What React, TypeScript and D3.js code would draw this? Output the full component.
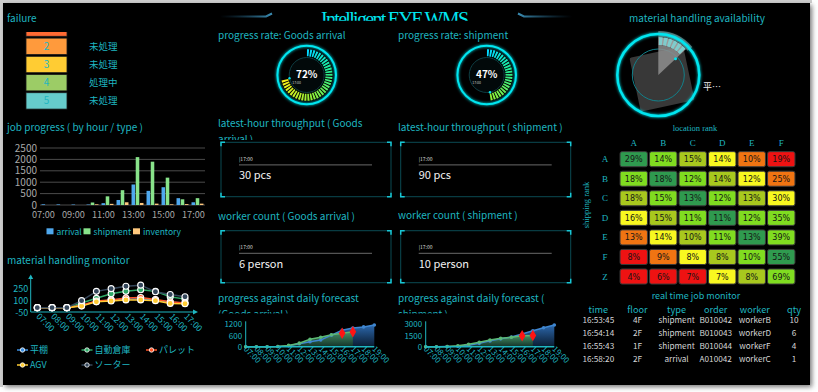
import * as d3 from "d3";
import React from "react";

const W = 818;
const H = 392;
const TEAL = "#1fb6c1";
const CYAN = "#00e6f0";
const FONT = "'Noto Sans CJK JP', 'Noto Sans', sans-serif";
const SERIF = "'Liberation Serif', 'DejaVu Serif', serif";

// failure list
const failureIds = ["1", "2", "3", "4", "5"];
const failureStatus = ["未処理", "未処理", "未処理", "処理中", "未処理"];
const failureColors = ["#ff6a33", "#ff9a3c", "#ffcc33", "#9ccc66", "#66cccc"];

// job progress (by hour / type)
const hours = ["07:00", "08:00", "09:00", "10:00", "11:00", "12:00", "13:00", "14:00", "15:00", "16:00", "17:00"];
const jobSeries = ["arrival", "shipment", "inventory"];
const jobArrival = [30, 25, 20, 20, 80, 220, 900, 620, 780, 300, 120];
const jobShipment = [0, 0, 0, 110, 380, 650, 2100, 1900, 1200, 250, 300];
const jobInventory = [0, 0, 0, 30, 50, 120, 90, 60, 30, 40, 60];
const jobColors = ["#4fa8ee", "#88e38a", "#ffc97e"];
const jobTicks = [0, 500, 1000, 1500, 2000, 2500];

// material handling monitor
const mhSeries = ["平棚", "自動倉庫", "パレット", "AGV", "ソーター"];
const mhShelf = [10, 10, 10, 40, 90, 110, 120, 120, 110, 80, 70];
const mhAuto = [10, 10, 10, 70, 130, 190, 220, 240, 220, 150, 120];
const mhPallet = [10, 10, 10, 40, 95, 110, 135, 140, 115, 85, 70];
const mhAgv = [10, 10, 10, 30, 85, 95, 110, 110, 100, 65, 60];
const mhSorter = [10, 10, 10, 100, 220, 255, 285, 300, 215, 180, 150];
const mhColors = ["#3d8fe0", "#2fa866", "#ff5528", "#ffcc33", "#34465a"];
const mhTicks = [-50, 100, 250];

// progress rate
const progressArrival = 72;
const progressShipment = 47;

// latest-hour throughput / worker count
const kpiTime = "17:00";
const throughputArrival = 30;
const throughputShipment = 90;
const workersArrival = 6;
const workersShipment = 10;

// progress against daily forecast
const fcHours = ["07:00", "08:00", "09:00", "10:00", "11:00", "12:00", "13:00", "14:00", "15:00", "16:00", "17:00", "18:00", "19:00"];
const forecastArrival = [0, 0, 0, 10, 50, 160, 270, 360, 620, 880, 1000, 1060, 1160];
const actualArrival = [0, 0, 0, 10, 70, 190, 400, 510, 640, 720, 800];
const forecastShipment = [0, 0, 20, 60, 200, 450, 780, 1050, 1300, 1700, 2140, 2540, 2900];
const actualShipment = [0, 0, 30, 120, 320, 590, 900, 1120, 1260, 1470, 1500];
const alertHours = ["16:00", "17:00"];

// material handling availability
const availabilityRate = 0.13;
const availabilityLabel = "平…";

// location rank
const rankCols = ["A", "B", "C", "D", "E", "F"];
const rankRows = ["A", "B", "C", "D", "E", "F", "Z"];
const rankValues = [
  [29, 14, 15, 14, 10, 19],
  [18, 18, 12, 14, 12, 25],
  [18, 15, 13, 12, 13, 30],
  [16, 15, 11, 11, 12, 35],
  [13, 14, 10, 11, 13, 39],
  [8, 9, 8, 8, 10, 55],
  [4, 6, 7, 7, 8, 69],
];
const rankLevels = [
  [0, 1, 2, 3, 4, 5],
  [1, 0, 1, 2, 3, 4],
  [2, 1, 0, 1, 2, 3],
  [3, 2, 1, 0, 1, 1],
  [4, 3, 2, 1, 0, 1],
  [5, 4, 3, 2, 1, 0],
  [5, 5, 5, 3, 2, 1],
];
const rankPalette = ["#2f9a4f", "#80dc20", "#a8c81e", "#f8f820", "#f07412", "#ee1212"];

// real time job monitor
const jobCols = ["time", "floor", "type", "order", "worker", "qty"];
const rtTime = ["16:53:45", "16:54:14", "16:55:43", "16:58:20"];
const rtFloor = ["4F", "2F", "1F", "2F"];
const rtType = ["shipment", "shipment", "shipment", "arrival"];
const rtOrder = ["B010042", "B010043", "B010044", "A010042"];
const rtWorker = ["workerB", "workerD", "workerF", "workerC"];
const rtQty = [10, 6, 4, 1];

const Heading = ({ x, y, children, anchor = "start", size = 10 }: any) => (
  <text x={x} y={y} fill={TEAL} fontSize={size} textAnchor={anchor}>
    {children}
  </text>
);

function Failure() {
  const y = d3.scaleBand().domain(failureIds).range([19, 110]).paddingInner(0.1).paddingOuter(0.05);
  return (
    <g>
      <g clipPath="url(#clipFailure)">
        {failureIds.map((id, i) => (
          <rect key={id} x={26} y={y(id)} width={41} height={y.bandwidth()} fill={failureColors[i]} stroke="#1a1a1a" strokeWidth={0.8} />
        ))}
      </g>
      <g clipPath="url(#clipFailureText)">
        {failureIds.map((id, i) => (
          <g key={id}>
            <text x={46.5} y={y(id)! + y.bandwidth() / 2 + 3.5} textAnchor="middle" fontSize={10} fill={TEAL}>
              {id}
            </text>
            <text x={89} y={y(id)! + y.bandwidth() / 2 + 3.5} fontSize={9.5} fill={TEAL}>
              {failureStatus[i]}
            </text>
          </g>
        ))}
      </g>
    </g>
  );
}

function JobProgress() {
  const x0 = d3.scaleBand().domain(hours).range([40, 205]).paddingInner(0.12).paddingOuter(0.06);
  const x1 = d3.scaleBand().domain(jobSeries).range([0, x0.bandwidth()]).padding(0.15);
  const y = d3.scaleLinear().domain([0, 2500]).range([205, 148]);
  const values = [jobArrival, jobShipment, jobInventory];
  return (
    <g>
      {jobTicks.map((t) => (
        <g key={t}>
          <line x1={40} x2={205} y1={y(t)} y2={y(t)} stroke="#4a4a4a" strokeWidth={1} />
          <text x={37} y={y(t) + 3.5} textAnchor="end" fontSize={10} fill="#a8a8a8">
            {t}
          </text>
        </g>
      ))}
      {hours.map((h, i) =>
        jobSeries.map((s, k) => {
          const v = values[k][i];
          return (
            <rect key={h + s} x={x0(h)! + x1(s)!} y={y(v)} width={x1.bandwidth()} height={y(0) - y(v)} fill={jobColors[k]} />
          );
        })
      )}
      {hours.map((h, i) =>
        i % 2 === 0 ? (
          <text key={h} x={x0(h)! + x0.bandwidth() / 2} dx={-4} y={218} textAnchor="middle" fontSize={9.2} fill="#a8a8a8">
            {h}
          </text>
        ) : null
      )}
      {jobSeries.map((s, k) => {
        const lx = [46.5, 83.5, 133][k];
        return (
          <g key={s}>
            <rect x={lx} y={228.3} width={7} height={6} fill={jobColors[k]} />
            <text x={lx + 10} y={234.5} fontSize={8.5} fill={TEAL}>
              {s}
            </text>
          </g>
        );
      })}
    </g>
  );
}

function MaterialMonitor() {
  const x = d3.scalePoint().domain(hours).range([37.3, 185]);
  const y = d3.scaleLinear().domain([-50, 400]).range([312.3, 277.4]);
  const series = [mhShelf, mhAuto, mhPallet, mhAgv, mhSorter];
  const line = d3
    .line<number>()
    .x((_, i) => x(hours[i])!)
    .y((d) => y(d));
  return (
    <g>
      <line x1={30.7} x2={30.7} y1={312} y2={276} stroke={TEAL} strokeWidth={1} />
      <path d="M28.2,279 L30.7,274.5 L33.2,279 Z" fill={TEAL} />
      <line x1={30.7} x2={196} y1={312} y2={312} stroke={TEAL} strokeWidth={1} />
      <path d="M193,309.5 L198,312 L193,314.5 Z" fill={TEAL} />
      {mhTicks.map((t) => (
        <text key={t} x={28.3} y={y(t) + 3.3} textAnchor="end" fontSize={9} fill={TEAL}>
          {t}
        </text>
      ))}
      {hours.map((h) => (
        <text key={h} transform={`translate(${x(h)! - 1.5},${317}) rotate(45)`} fontSize={8.6} fill={TEAL}>
          {h}
        </text>
      ))}
      {series.map((s, k) => (
        <g key={mhSeries[k]}>
          <path d={line(s)!} fill="none" stroke={mhColors[k]} strokeWidth={1.5} />
          {s.map((v, i) => (
            <circle key={i} cx={x(hours[i])} cy={y(v)} r={3} fill={mhColors[k]} stroke="#fff" strokeWidth={1.1} />
          ))}
        </g>
      ))}
      {mhSeries.map((s, k) => {
        const lx = 18 + (k % 3) * 64.5;
        const ly = 350 + Math.floor(k / 3) * 15;
        return (
          <g key={s}>
            <line x1={lx - 1} x2={lx + 10} y1={ly} y2={ly} stroke={mhColors[k]} strokeWidth={1.5} />
            <circle cx={lx + 4.5} cy={ly} r={2.2} fill={mhColors[k]} stroke="#fff" strokeWidth={0.8} />
            <text x={lx + 12} y={ly + 3.2} fontSize={9} fill={TEAL}>
              {s}
            </text>
          </g>
        );
      })}
    </g>
  );
}

function ProgressGauge({ cx, cy, value }: { cx: number; cy: number; value: number }) {
  const n = 50;
  const ticks = d3.range(Math.round((n * value) / 100));
  const angle = d3.scaleLinear().domain([0, n]).range([0, 2 * Math.PI]);
  const color = d3
    .scaleLinear<string>()
    .domain([0, 0.2, 0.45, 0.72])
    .range(["#00d8ff", "#1eee9a", "#8cf03a", "#fff016"])
    .clamp(true);
  const arc = d3.arc<any>();
  const endA = (value / 100) * 2 * Math.PI;
  return (
    <g transform={`translate(${cx},${cy})`}>
      <circle r={29.3} fill="none" stroke={CYAN} strokeWidth={2} filter="url(#glow)" />
      <circle r={17.5} fill="#02090a" stroke="#0e3d42" strokeWidth={1} />
      {ticks.map((i) => (
        <path
          key={i}
          d={arc({ innerRadius: 18.8, outerRadius: 25.8, startAngle: angle(i) + 0.012, endAngle: angle(i + 1) - 0.03 })!}
          fill={color(i / n)}
        />
      ))}
      <text y={3} textAnchor="middle" fill="#fff" fontWeight="bold" fontSize={10}>
        {value}%
      </text>
      <circle cx={Math.sin(endA) * 17.5} cy={-Math.cos(endA) * 17.5} r={1.2} fill={CYAN} />
      <text x={-14.5} y={8.5} fontSize={3.5} fill="#ccc">
        {kpiTime}
      </text>
    </g>
  );
}

function CornerBox({ x, y, w, h }: { x: number; y: number; w: number; h: number }) {
  const c = 4;
  return (
    <g>
      <rect x={x} y={y} width={w} height={h} fill="none" stroke="#0b4a53" strokeWidth={1} />
      <path
        d={`M${x},${y + c}V${y}H${x + c} M${x + w - c},${y}H${x + w}V${y + c} M${x + w},${y + h - c}V${y + h}H${x + w - c} M${x + c},${y + h}H${x}V${y + h - c}`}
        stroke="#18c6d4"
        strokeWidth={1.5}
        fill="none"
      />
    </g>
  );
}

function Kpi({ x, y, h, value, unit }: { x: number; y: number; h: number; value: number; unit: string }) {
  return (
    <g>
      <CornerBox x={x} y={y} w={170} h={h} />
      <text x={x + 18} y={y + 18.3} fontSize={5} fill="#ddd">
        |{kpiTime}
      </text>
      <line x1={x + 18} x2={x + 151} y1={y + 22.6} y2={y + 22.6} stroke="#6a6a6a" strokeWidth={1} />
      <text x={x + 18} y={y + 37} fontSize={11} fill="#f2f2f2">
        {value} {unit}
      </text>
    </g>
  );
}

function ForecastChart({ left, right, max, forecast, actual, id }: any) {
  const x = d3.scalePoint().domain(fcHours).range([left, right]);
  const y = d3.scaleLinear().domain([0, max]).range([346.7, 324.3]);
  const ticks = [0, max / 2, max];
  const area = d3
    .area<number>()
    .x((_, i) => x(fcHours[i])!)
    .y0(y(0))
    .y1((d) => y(d));
  const line = d3
    .line<number>()
    .x((_, i) => x(fcHours[i])!)
    .y((d) => y(d));
  const diamond = d3.symbol().type(d3.symbolDiamond).size(38)()!;
  return (
    <g>
      <defs>
        <linearGradient id={`${id}b`} x1="0" y1="0" x2="0" y2="1">
          <stop offset="0" stopColor="#2f6fb8" stopOpacity={0.95} />
          <stop offset="1" stopColor="#0d2440" stopOpacity={0.8} />
        </linearGradient>
        <linearGradient id={`${id}g`} x1="0" y1="0" x2="0" y2="1">
          <stop offset="0" stopColor="#4a9a62" stopOpacity={0.9} />
          <stop offset="1" stopColor="#173a27" stopOpacity={0.8} />
        </linearGradient>
      </defs>
      <path d={area(forecast)!} fill={`url(#${id}b)`} />
      <path d={area(actual)!} fill={`url(#${id}g)`} />
      <path d={line(forecast)!} fill="none" stroke="#3f86d0" strokeWidth={1.5} />
      <path d={line(actual)!} fill="none" stroke="#5cb874" strokeWidth={1.5} />
      {forecast.map((v: number, i: number) => (
        <circle key={"f" + i} cx={x(fcHours[i])} cy={y(v)} r={1.8} fill="#3f86d0" />
      ))}
      {actual.map((v: number, i: number) => (
        <circle key={"a" + i} cx={x(fcHours[i])} cy={y(v)} r={1.8} fill="#5cb874" />
      ))}
      <line x1={left} x2={left} y1={y(0)} y2={y(max) - 3} stroke={TEAL} strokeWidth={1} />
      <line x1={left} x2={right} y1={y(0)} y2={y(0)} stroke={TEAL} strokeWidth={1.5} />
      {ticks.map((t) => (
        <text key={t} x={left - 3.5} y={y(t) + 3} textAnchor="end" fontSize={8} fill={TEAL}>
          {t}
        </text>
      ))}
      {fcHours.map((h) => (
        <text key={h} transform={`translate(${x(h)! - 2.5},${349.5}) rotate(45)`} fontSize={8} fill={TEAL}>
          {h}
        </text>
      ))}
      {alertHours.map((h) => {
        const i = fcHours.indexOf(h);
        return <path key={h} d={diamond} transform={`translate(${x(h)},${y(actual[i])})`} fill="#ff1414" />;
      })}
    </g>
  );
}

function Availability() {
  const cx = 658.3;
  const cy = 75;
  const end = availabilityRate * 2 * Math.PI;
  const arc = d3.arc<any>();
  const segs = d3.range(6);
  const step = end / segs.length;
  return (
    <g>
      <rect x={-27.5} y={-27.5} width={55} height={55} rx={2} transform={`translate(662,79) rotate(-12)`} fill="#383838" />
      <g transform={`translate(${cx},${cy})`}>
        <circle r={26} fill="none" stroke="#12808a" strokeWidth={1} />
        <path d={arc({ innerRadius: 0, outerRadius: 30, startAngle: 0, endAngle: end })!} fill="#8e8e8e" opacity={0.85} />
        <path d={arc({ innerRadius: 30, outerRadius: 38, startAngle: 0, endAngle: end })!} fill="#9a9a9a" />
        {segs.map((i) => (
          <path
            key={i}
            d={arc({ innerRadius: 30, outerRadius: 38, startAngle: i * step + 0.02, endAngle: (i + 1) * step - 0.02 })!}
            fill="#7fcccc"
          />
        ))}
        <path d={arc({ innerRadius: 38, outerRadius: 44, startAngle: 0, endAngle: end * 1.08 })!} fill="#606060" />
        <circle r={41} fill="none" stroke={CYAN} strokeWidth={2.5} filter="url(#glow)" />
        <circle cx={Math.sin(end) * 23.6} cy={-Math.cos(end) * 23.6} r={1.5} fill={CYAN} />
      </g>
      <text x={703} y={90} fontSize={9} fill="#eee">
        {availabilityLabel}
      </text>
    </g>
  );
}

function LocationRank() {
  const x = d3.scaleBand().domain(rankCols).range([619, 796]).paddingInner(0.07).paddingOuter(0.035);
  const y = d3.scaleBand().domain(rankRows).range([149.4, 286.3]).paddingInner(0.23).paddingOuter(0.115);
  return (
    <g>
      <text x={695} y={131} textAnchor="middle" fontFamily={SERIF} fontSize={8.5} fill={TEAL}>
        location rank
      </text>
      <text transform="translate(589,205) rotate(-90)" textAnchor="middle" fontFamily={SERIF} fontSize={8.5} fill={TEAL}>
        shipping rank
      </text>
      {rankCols.map((c) => (
        <text key={c} x={x(c)! + x.bandwidth() / 2} y={145.5} textAnchor="middle" fontFamily={SERIF} fontSize={9} fill={TEAL}>
          {c}
        </text>
      ))}
      {rankRows.map((r, ri) => (
        <g key={r}>
          <text x={605} y={y(r)! + y.bandwidth() / 2 + 3} textAnchor="middle" fontFamily={SERIF} fontSize={9} fill={TEAL}>
            {r}
          </text>
          {rankCols.map((c, ci) => (
            <g key={c}>
              <rect
                x={x(c)}
                y={y(r)}
                width={x.bandwidth()}
                height={y.bandwidth()}
                rx={2}
                fill={rankPalette[rankLevels[ri][ci]]}
                stroke="#3a3a3a"
                strokeWidth={1}
              />
              <text
                x={x(c)! + x.bandwidth() / 2}
                y={y(r)! + y.bandwidth() / 2 + 3}
                textAnchor="middle"
                fontFamily="'DejaVu Sans', sans-serif"
                fontSize={8}
                fill="#151515"
              >
                {rankValues[ri][ci]}%
              </text>
            </g>
          ))}
        </g>
      ))}
    </g>
  );
}

function JobMonitor() {
  const x = d3.scalePoint().domain(jobCols).range([598.3, 794]);
  const rows = d3.range(rtTime.length).map((i) => [rtTime[i], rtFloor[i], rtType[i], rtOrder[i], rtWorker[i], String(rtQty[i])]);
  const rowY = d3.scalePoint().domain(d3.range(rows.length).map(String)).range([322.6, 362.3]);
  return (
    <g>
      <text x={696} y={299} textAnchor="middle" fontSize={9} fill={TEAL}>
        real time job monitor
      </text>
      {jobCols.map((c) => (
        <text key={c} x={x(c)} y={312.5} textAnchor="middle" fontSize={9.2} fill={TEAL}>
          {c}
        </text>
      ))}
      {rows.map((r, i) =>
        r.map((v, k) => (
          <text key={i + "-" + k} x={x(jobCols[k])} y={rowY(String(i))} textAnchor="middle" fontSize={8.2} fill="#d6d6d6">
            {v}
          </text>
        ))
      )}
    </g>
  );
}

export default function App() {
  return (
    <svg width={W} height={H} style={{ position: "absolute", left: 0, top: 0 }} fontFamily={FONT}>
      <defs>
        <filter id="glow" x="-50%" y="-50%" width="200%" height="200%">
          <feGaussianBlur stdDeviation="1.5" result="b" />
          <feMerge>
            <feMergeNode in="b" />
            <feMergeNode in="SourceGraphic" />
          </feMerge>
        </filter>
        <filter id="shadow" x="-5%" y="-5%" width="110%" height="110%">
          <feDropShadow dx="2" dy="2" stdDeviation="2.5" floodColor="#777" />
        </filter>
        <clipPath id="clipFailure">
          <rect x={0} y={32} width={200} height={100} />
        </clipPath>
        <clipPath id="clipFailureText">
          <rect x={0} y={37} width={200} height={100} />
        </clipPath>
        <clipPath id="clipTitle">
          <rect x={200} y={0} width={400} height={20.8} />
        </clipPath>
        <clipPath id="clipTp">
          <rect x={210} y={100} width={180} height={40} />
        </clipPath>
        <clipPath id="clipFc">
          <rect x={210} y={280} width={360} height={33.5} />
        </clipPath>
        <linearGradient id="decoL" x1="0" x2="1" y1="0" y2="0">
          <stop offset="0" stopColor="#1b4f6e" stopOpacity={0} />
          <stop offset="1" stopColor="#3b8db3" />
        </linearGradient>
        <linearGradient id="decoR" x1="1" x2="0" y1="0" y2="0">
          <stop offset="0" stopColor="#1b4f6e" stopOpacity={0} />
          <stop offset="1" stopColor="#3b8db3" />
        </linearGradient>
      </defs>
      <rect width={W} height={H} fill="#fff" />
      <rect x={0} y={0} width={812} height={3} fill="#cfcfcf" />
      <rect x={0} y={0} width={3} height={387} fill="#cfcfcf" />
      <rect x={3} y={3} width={807} height={382} fill="#000" filter="url(#shadow)" />

      {/* title */}
      <g clipPath="url(#clipTitle)">
        <text x={395} y={26} textAnchor="middle" fontFamily={SERIF} fontSize={20} textLength={148} fill={CYAN}>
          Intelligent EYE WMS
        </text>
      </g>
      <path d="M220,16.5 H266 L272,13.5" fill="none" stroke="url(#decoL)" strokeWidth={2} />
      <path d="M572,16.5 H524 L518,13.5" fill="none" stroke="url(#decoR)" strokeWidth={2} />

      {/* left column */}
      <Heading x={7} y={22}>failure</Heading>
      <Failure />
      <Heading x={7} y={131}>job progress ( by hour / type )</Heading>
      <JobProgress />
      <Heading x={7} y={264}>material handling monitor</Heading>
      <MaterialMonitor />

      {/* middle columns */}
      <Heading x={218} y={38.5}>progress rate: Goods arrival</Heading>
      <Heading x={398} y={38.5}>progress rate: shipment</Heading>
      <ProgressGauge cx={306.7} cy={75} value={progressArrival} />
      <ProgressGauge cx={486.7} cy={75} value={progressShipment} />

      <g clipPath="url(#clipTp)">
        <Heading x={218} y={127}>latest-hour throughput ( Goods</Heading>
        <Heading x={218} y={143}>arrival )</Heading>
      </g>
      <Heading x={398} y={130.5}>latest-hour throughput ( shipment )</Heading>
      <Kpi x={221} y={142.3} h={54.4} value={throughputArrival} unit="pcs" />
      <Kpi x={400.7} y={142.3} h={54.4} value={throughputShipment} unit="pcs" />

      <Heading x={218} y={219.5}>worker count ( Goods arrival )</Heading>
      <Heading x={398} y={219}>worker count ( shipment )</Heading>
      <Kpi x={221} y={230.7} h={52} value={workersArrival} unit="person" />
      <Kpi x={400.7} y={230.7} h={52} value={workersShipment} unit="person" />

      <g clipPath="url(#clipFc)">
        <Heading x={218} y={302}>progress against daily forecast</Heading>
        <Heading x={218} y={318}>(Goods arrival )</Heading>
        <Heading x={398} y={302}>progress against daily forecast (</Heading>
        <Heading x={398} y={318}>shipment )</Heading>
      </g>
      <ForecastChart left={245.7} right={374.3} max={1200} forecast={forecastArrival} actual={actualArrival} id="fa" />
      <ForecastChart left={425.7} right={554.3} max={3000} forecast={forecastShipment} actual={actualShipment} id="fs" />

      {/* right column */}
      <Heading x={697} y={22} anchor="middle">material handling availability</Heading>
      <Availability />
      <LocationRank />
      <JobMonitor />
    </svg>
  );
}
